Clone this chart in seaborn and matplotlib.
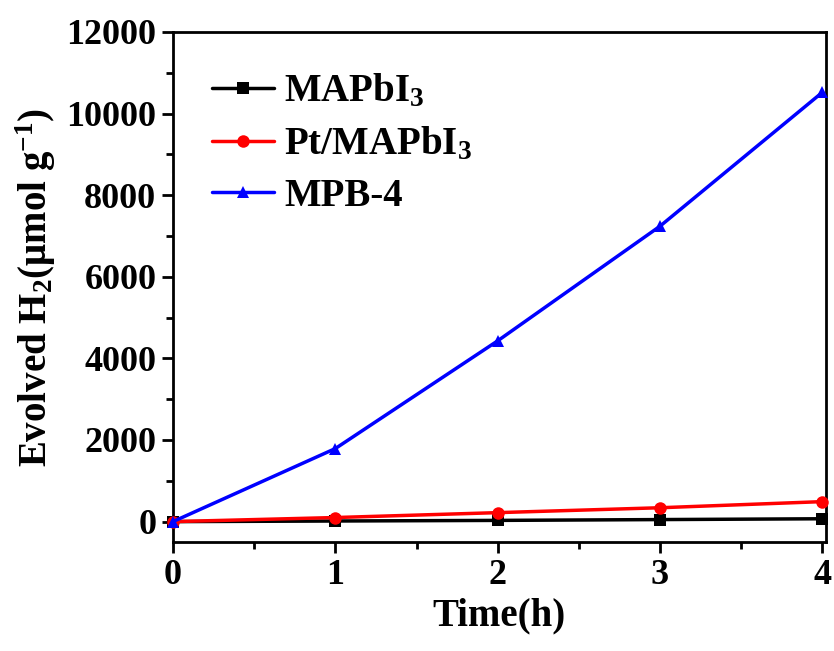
import pandas as pd
import matplotlib
matplotlib.use("Agg")
import matplotlib.pyplot as plt
import seaborn as sns
from matplotlib.ticker import MultipleLocator

sns.set_style("ticks")
plt.rcParams["font.family"] = ["Liberation Serif", "DejaVu Serif"]
plt.rcParams["font.weight"] = "bold"
plt.rcParams["text.color"] = "black"
plt.rcParams["axes.labelcolor"] = "black"
plt.rcParams["xtick.color"] = "black"
plt.rcParams["ytick.color"] = "black"
plt.rcParams["axes.edgecolor"] = "black"
plt.rcParams["mathtext.fontset"] = "custom"
plt.rcParams["mathtext.rm"] = "Liberation Serif:bold"
plt.rcParams["mathtext.bf"] = "Liberation Serif:bold"
plt.rcParams["mathtext.it"] = "Liberation Serif:bold"
plt.rcParams["mathtext.default"] = "bf"

# 数据
time_h = [0, 1, 2, 3, 4]
mapbi3 = [0, 15, 30, 50, 70]
pt_mapbi3 = [0, 100, 220, 340, 490]
mpb4 = [0, 1790, 4430, 7240, 10520]

series_names = ["MAPbI$_3$", "Pt/MAPbI$_3$", "MPB-4"]
df = pd.DataFrame({
    "time": time_h * 3,
    "h2": mapbi3 + pt_mapbi3 + mpb4,
    "sample": [series_names[0]] * 5 + [series_names[1]] * 5 + [series_names[2]] * 5,
})

colors = {series_names[0]: "black", series_names[1]: "#ff0000", series_names[2]: "#0000ff"}
markers = {series_names[0]: "s", series_names[1]: "o", series_names[2]: "^"}

fig = plt.figure(figsize=(8.34, 6.51), dpi=100)
ax = fig.add_axes([0.2074, 0.1674, 0.7826, 0.7836])

sns.lineplot(data=df, x="time", y="h2", hue="sample", style="sample",
             palette=colors, markers=markers, dashes=False, linewidth=2.5,
             markersize=9, markeredgewidth=0, ax=ax, clip_on=False, zorder=3)

ax.set_xlim(0, 4.02)
ax.set_ylim(-500, 12000)
ax.xaxis.set_major_locator(MultipleLocator(1))
ax.xaxis.set_minor_locator(MultipleLocator(0.5))
ax.yaxis.set_major_locator(MultipleLocator(2000))
ax.yaxis.set_minor_locator(MultipleLocator(1000))
ax.tick_params(which="major", direction="out", length=8, width=2, labelsize=26, pad=4)
ax.tick_params(which="minor", direction="out", length=5, width=2)
for sp in ax.spines.values():
    sp.set_linewidth(2)
for lab in ax.get_xticklabels() + ax.get_yticklabels():
    lab.set_fontweight("bold")

ax.set_xlabel("Time(h)", fontsize=28, fontweight="bold", labelpad=4)
ax.set_ylabel("Evolved H$_2$(μmol g$^{-1}$)", fontsize=28, fontweight="bold", labelpad=6)

leg = ax.legend(loc="upper left", bbox_to_anchor=(0.036, 0.95), frameon=False,
                fontsize=28, handlelength=1.6, handletextpad=0.26, labelspacing=0.38,
                borderaxespad=0)
for t in leg.get_texts():
    t.set_fontweight("bold")

fig.savefig("out.png", dpi=100)
